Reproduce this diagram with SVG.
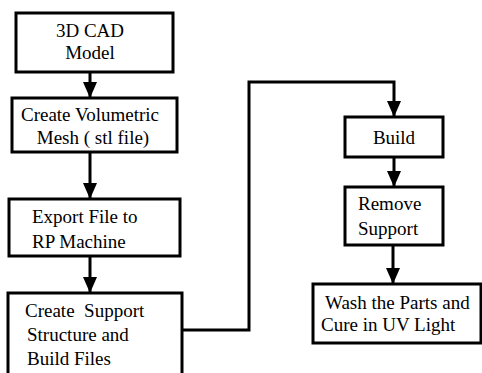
<svg xmlns="http://www.w3.org/2000/svg" width="482" height="373" viewBox="0 0 482 373">
<defs>
<marker id="ah" markerWidth="16" markerHeight="14" refX="16" refY="7" orient="auto" markerUnits="userSpaceOnUse" viewBox="0 0 16 14">
<path d="M0,0 L16,7 L0,14 Z" fill="#000"/>
</marker>
</defs>
<rect width="482" height="373" fill="#fff"/>
<g id="connectors" fill="none" stroke="#000" stroke-width="3">
<line x1="90" y1="73" x2="90" y2="98" marker-end="url(#ah)"/>
<line x1="90" y1="153" x2="90" y2="199" marker-end="url(#ah)"/>
<line x1="90" y1="257" x2="90" y2="293" marker-end="url(#ah)"/>
<polyline points="182,330 249,330 249,82 394,82 394,117" marker-end="url(#ah)"/>
<line x1="394" y1="158" x2="394" y2="187" marker-end="url(#ah)"/>
<line x1="393" y1="246" x2="393" y2="284" marker-end="url(#ah)"/>
</g>
<g font-family="Liberation Serif" font-size="19" fill="#000">
<g id="n1">
<rect x="16" y="13" width="157" height="59" fill="#fff" stroke="#000" stroke-width="3"/>
<text x="90" y="37" text-anchor="middle">3D CAD</text>
<text x="90" y="59" text-anchor="middle">Model</text>
</g>
<g id="n2">
<rect x="12" y="98" width="165" height="54" fill="#fff" stroke="#000" stroke-width="3"/>
<text x="90" y="121" text-anchor="middle">Create Volumetric</text>
<text x="93" y="144" text-anchor="middle">Mesh ( stl file)</text>
</g>
<g id="n3">
<rect x="9" y="199" width="171" height="57" fill="#fff" stroke="#000" stroke-width="3"/>
<text x="32" y="223">Export File to</text>
<text x="32" y="248">RP Machine</text>
</g>
<g id="n4">
<rect x="8" y="293" width="174" height="90" fill="#fff" stroke="#000" stroke-width="3"/>
<text x="25" y="317" xml:space="preserve">Create  Support</text>
<text x="27" y="341">Structure and</text>
<text x="27" y="365">Build Files</text>
</g>
<g id="n5">
<rect x="345" y="117" width="98" height="40" fill="#fff" stroke="#000" stroke-width="3"/>
<text x="394" y="144" text-anchor="middle">Build</text>
</g>
<g id="n6">
<rect x="345" y="187" width="98" height="58" fill="#fff" stroke="#000" stroke-width="3"/>
<text x="358" y="210">Remove</text>
<text x="358" y="235">Support</text>
</g>
<g id="n7">
<rect x="313" y="284" width="168" height="59" fill="#fff" stroke="#000" stroke-width="3"/>
<text x="325" y="309">Wash the Parts and</text>
<text x="321" y="331">Cure in UV Light</text>
</g>
</g>
</svg>
